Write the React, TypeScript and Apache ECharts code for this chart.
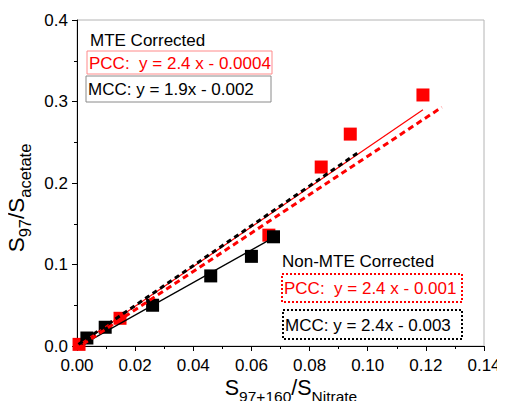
import React, { useEffect, useRef } from "react";
import * as echarts from "echarts";

// Data
const pccX = [0.0007, 0.0148, 0.066, 0.084, 0.094, 0.119];
const pccY = [0.002, 0.034, 0.136, 0.2196, 0.26, 0.308];
const mccX = [0.0034, 0.0097, 0.026, 0.046, 0.06, 0.0676];
const mccY = [0.0098, 0.023, 0.05, 0.086, 0.11, 0.134];

// Fit-line endpoints
const pccMteLine = [[0.0, 0.0], [0.119, 0.29]];
const mccMteLine = [[0.002, 0.002], [0.0676, 0.133]];
const pccNonMteLine = [[0.002, 0.002], [0.1255, 0.293]];
const mccNonMteLine = [[0.0005, 0.002], [0.0966, 0.237]];

const xTickValues = [0, 0.02, 0.04, 0.06, 0.08, 0.1, 0.12, 0.14];
const yTickValues = [0, 0.1, 0.2, 0.3, 0.4];

const xTitleParts = [["S", "main"], ["97+160", "sub"], ["/S", "main"], ["Nitrate", "sub"]];
const yTitleParts = [["S", "main"], ["97", "sub"], ["/S", "main"], ["acetate", "sub"]];

const FONT = "'Liberation Sans', Arial, Helvetica, sans-serif";

function measure(text: string, size: number): number {
  const c = document.createElement("canvas").getContext("2d");
  if (!c) return text.length * size * 0.55;
  c.font = `${size}px ${FONT}`;
  return c.measureText(text).width;
}

function buildTitle(parts: string[][], mainSize: number, subSize: number, subDrop: number) {
  const widths = parts.map(([t, k]) => measure(t, k === "main" ? mainSize : subSize));
  const total = widths.reduce((a, b) => a + b, 0);
  let x = -total / 2;
  const children: any[] = [];
  parts.forEach(([t, k], i) => {
    children.push({
      type: "text",
      x,
      y: k === "main" ? 0 : subDrop,
      style: {
        text: t,
        fill: "#000",
        fontSize: k === "main" ? mainSize : subSize,
        fontFamily: FONT,
        textAlign: "left",
        textVerticalAlign: "middle",
      },
    });
    x += widths[i];
  });
  return children;
}

export default function App() {
  const ref = useRef<HTMLDivElement>(null);
  useEffect(() => {
    if (!ref.current) return;
    const chart = echarts.init(ref.current, undefined, { renderer: "svg" });
    const option: any = {
      animation: false,
      backgroundColor: "#fff",
      grid: { left: 77, right: 21, top: 20, bottom: 63, show: true, borderColor: "#b4b4b4", borderWidth: 1 },
      xAxis: {
        type: "value",
        min: xTickValues[0],
        max: xTickValues[xTickValues.length - 1],
        interval: 0.02,
        axisLine: { show: true, lineStyle: { color: "#000", width: 1 } },
        axisTick: { show: true, length: 5, lineStyle: { color: "#000" } },
        minorTick: { show: true, splitNumber: 2, length: 3, lineStyle: { color: "#000" } },
        splitLine: { show: false },
        axisLabel: { color: "#000", fontSize: 17, fontFamily: FONT, margin: 11, formatter: (v: number) => v.toFixed(2) },
      },
      yAxis: {
        type: "value",
        min: yTickValues[0],
        max: yTickValues[yTickValues.length - 1],
        interval: 0.1,
        axisLine: { show: true, lineStyle: { color: "#000", width: 1 } },
        axisTick: { show: true, length: 5, lineStyle: { color: "#000" } },
        minorTick: { show: true, splitNumber: 2, length: 3, lineStyle: { color: "#000" } },
        splitLine: { show: false },
        axisLabel: { color: "#000", fontSize: 17, fontFamily: FONT, margin: 9, formatter: (v: number) => v.toFixed(1) },
      },
      series: [
        {
          type: "scatter",
          symbol: "rect",
          symbolSize: 13,
          itemStyle: { color: "#ff0000", opacity: 1 },
          data: pccX.map((x, i) => [x, pccY[i]]),
          z: 2,
        },
        {
          type: "scatter",
          symbol: "rect",
          symbolSize: 13,
          itemStyle: { color: "#000", opacity: 1 },
          data: mccX.map((x, i) => [x, mccY[i]]),
          z: 3,
        },
        {
          type: "line",
          showSymbol: false,
          data: pccMteLine,
          lineStyle: { color: "#ff0000", width: 1.2, type: "solid" },
          z: 4,
        },
        {
          type: "line",
          showSymbol: false,
          data: mccMteLine,
          lineStyle: { color: "#000", width: 1.2, type: "solid" },
          z: 4,
        },
        {
          type: "line",
          showSymbol: false,
          data: pccNonMteLine,
          lineStyle: { color: "#ff0000", width: 3, type: [6, 4] },
          z: 4,
        },
        {
          type: "line",
          showSymbol: false,
          data: mccNonMteLine,
          lineStyle: { color: "#000", width: 3, type: [5, 4] },
          z: 4,
        },
      ],
      graphic: [
        {
          type: "text",
          x: 90,
          y: 40,
          style: { text: "MTE Corrected", fill: "#000", fontSize: 17, fontFamily: FONT, textVerticalAlign: "middle" },
        },
        {
          type: "rect",
          shape: { x: 87, y: 51, width: 185, height: 23 },
          style: { fill: "none", stroke: "#ff8a8a", lineWidth: 1 },
        },
        {
          type: "text",
          x: 89,
          y: 63,
          style: { text: "PCC:  y = 2.4 x - 0.0004", fill: "#ff0000", fontSize: 17, fontFamily: FONT, textVerticalAlign: "middle" },
        },
        {
          type: "rect",
          shape: { x: 86, y: 76, width: 185, height: 26 },
          style: { fill: "none", stroke: "#8a8a8a", lineWidth: 1 },
        },
        {
          type: "text",
          x: 88,
          y: 89,
          style: { text: "MCC: y = 1.9x - 0.002", fill: "#000", fontSize: 17, fontFamily: FONT, textVerticalAlign: "middle" },
        },
        {
          type: "text",
          x: 282,
          y: 261,
          style: { text: "Non-MTE Corrected", fill: "#000", fontSize: 17, fontFamily: FONT, textVerticalAlign: "middle" },
        },
        {
          type: "rect",
          shape: { x: 282, y: 274, width: 180, height: 28 },
          style: { fill: "none", stroke: "#ff0000", lineWidth: 2, lineDash: [2, 2] },
        },
        {
          type: "text",
          x: 284,
          y: 288,
          style: { text: "PCC:  y = 2.4 x - 0.001", fill: "#ff0000", fontSize: 17, fontFamily: FONT, textVerticalAlign: "middle" },
        },
        {
          type: "rect",
          shape: { x: 283, y: 310, width: 179, height: 29 },
          style: { fill: "none", stroke: "#000", lineWidth: 2, lineDash: [2, 2] },
        },
        {
          type: "text",
          x: 285,
          y: 325,
          style: { text: "MCC: y = 2.4x - 0.003", fill: "#000", fontSize: 17, fontFamily: FONT, textVerticalAlign: "middle" },
        },
        {
          type: "group",
          x: 291,
          y: 388,
          children: buildTitle(xTitleParts, 21.5, 15.5, 8.5),
        },
        {
          type: "group",
          x: 16,
          y: 198,
          rotation: Math.PI / 2,
          children: buildTitle(yTitleParts, 22.5, 16.5, 9),
        },
      ],
    };
    chart.setOption(option);
    return () => chart.dispose();
  }, []);
  return <div ref={ref} style={{ width: 505, height: 409, margin: -8 }} />;
}
